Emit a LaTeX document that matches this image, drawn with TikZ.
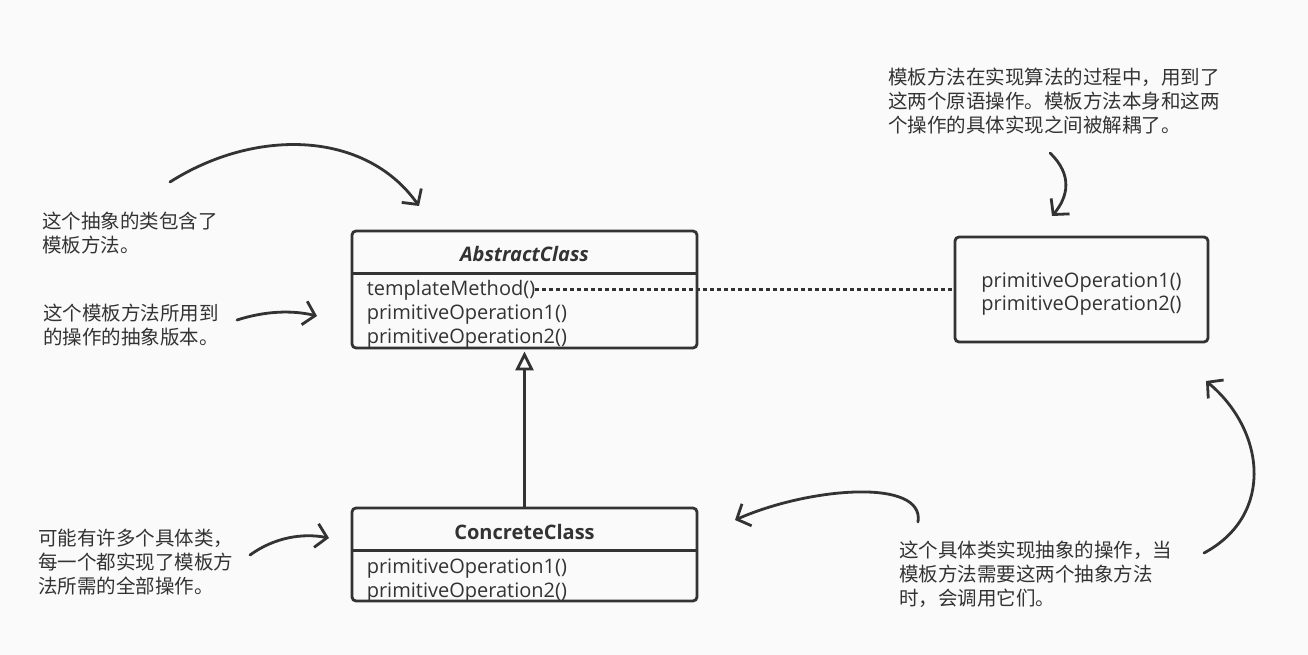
\documentclass[tikz,border=0pt]{standalone}
\usepackage{fontspec}
\setmainfont{Open Sans}
\newfontfamily\cjk{Noto Sans CJK SC}
\usetikzlibrary{arrows.meta,positioning}
\definecolor{ink}{HTML}{333333}
\definecolor{paper}{HTML}{FAFAFA}

\begin{document}
\begin{tikzpicture}[x=1pt, y=-1pt,
    every node/.style={text=ink, inner sep=0pt},
    classbox/.style={draw=ink, line width=2.8pt, rounded corners=4pt, minimum width=345pt},
    classname/.style={font=\fontsize{20}{24}\selectfont\bfseries},
    member/.style={font=\fontsize{20}{24}\selectfont, anchor=base west},
    note/.style={font=\cjk\fontsize{19.5}{24}\selectfont, align=left, anchor=north west},
    pointer/.style={draw=ink, line width=2.8pt, line cap=round,
      -{Straight Barb[length=11pt, width=24pt]}}]
  \fill[paper] (0,0) rectangle (1308,655);
  \useasboundingbox (0,0) rectangle (1308,655);

  % abstract class
  \node[classbox, minimum height=117pt] (abs) at (524.5,289.5) {};
  \draw[ink, line width=2.8pt] ([yshift=-44pt]abs.north west) -- ([yshift=-44pt]abs.north east);
  \node[classname] (absname) at ([yshift=-24pt]abs.north) {\itshape AbstractClass};
  \node[member] (absop0) at ([xshift=16pt, yshift=-66pt]abs.north west) {templateMethod()};
  \node[member] (absop1) at ([yshift=-24pt]absop0.base west) {primitiveOperation1()};
  \node[member] (absop2) at ([yshift=-24pt]absop1.base west) {primitiveOperation2()};

  % concrete class
  \node[classbox, minimum height=93pt] (con) at (524.5,554.5) {};
  \draw[ink, line width=2.8pt] ([yshift=-44pt]con.north west) -- ([yshift=-44pt]con.north east);
  \node[classname] (conname) at ([yshift=-25pt]con.north) {ConcreteClass};
  \node[member] (conop1) at ([xshift=16pt, yshift=-67pt]con.north west) {primitiveOperation1()};
  \node[member] (conop2) at ([yshift=-24pt]conop1.base west) {primitiveOperation2()};

  % primitive operations
  \node[classbox, minimum width=253pt, minimum height=105pt] (prim) at (1081.5,289.5) {};
  \node[member, anchor=base] (primop1) at ([yshift=-52pt]prim.north) {primitiveOperation1()};
  \node[member, anchor=base] (primop2) at ([yshift=-23pt]primop1.base) {primitiveOperation2()};

  \draw[ink, line width=2.6pt, dash pattern=on 4pt off 3pt] ([yshift=1pt]absop0.east) -- ([yshift=1pt]absop0.east -| prim.west);
  \draw[ink, line width=2.8pt, -{Triangle[open, length=19pt, width=18pt]}] (con) -- ([yshift=-2pt]abs.south);

  % notes
  \node[note] (n1) at (42,212) {这个抽象的类包含了\\模板方法。};
  \node[note] (n2) at (43,304) {这个模板方法所用到\\的操作的抽象版本。};
  \node[note] (n3) at (38,529) {可能有许多个具体类，\\每一个都实现了模板方\\法所需的全部操作。};
  \node[note] (n4) at (888,68) {模板方法在实现算法的过程中，用到了\\这两个原语操作。模板方法本身和这两\\个操作的具体实现之间被解耦了。};
  \node[note] (n5) at (899,541) {这个具体类实现抽象的操作，当\\模板方法需要这两个抽象方法\\时，会调用它们。};

  \coordinate (a1s) at (170,182);  \coordinate (a1e) at (419,206);
  \coordinate (a2s) at (237,320);  \coordinate (a2e) at (317,316);
  \coordinate (a3s) at (250,555);  \coordinate (a3e) at (329,538);
  \coordinate (a4s) at (1050,153); \coordinate (a4e) at (1052,216);
  \coordinate (a5s) at (918,522);  \coordinate (a5e) at (735,520);
  \coordinate (a6s) at (1204,553); \coordinate (a6e) at (1206,381);
  \draw[pointer] (a1s) .. controls (255,128) and (365,130) .. (a1e);
  \draw[pointer] (a2s) .. controls (265,311) and (292,310) .. (a2e);
  \draw[pointer] (a3s) .. controls (275,537) and (303,533) .. (a3e);
  \draw[pointer] (a4s) .. controls (1073,175) and (1068,197) .. (a4e);
  \draw[pointer] (a5s) .. controls (925,478) and (810,487) .. (a5e);
  \draw[pointer] (a6s) .. controls (1275,515) and (1265,430) .. (a6e);
\end{tikzpicture}
\end{document}
